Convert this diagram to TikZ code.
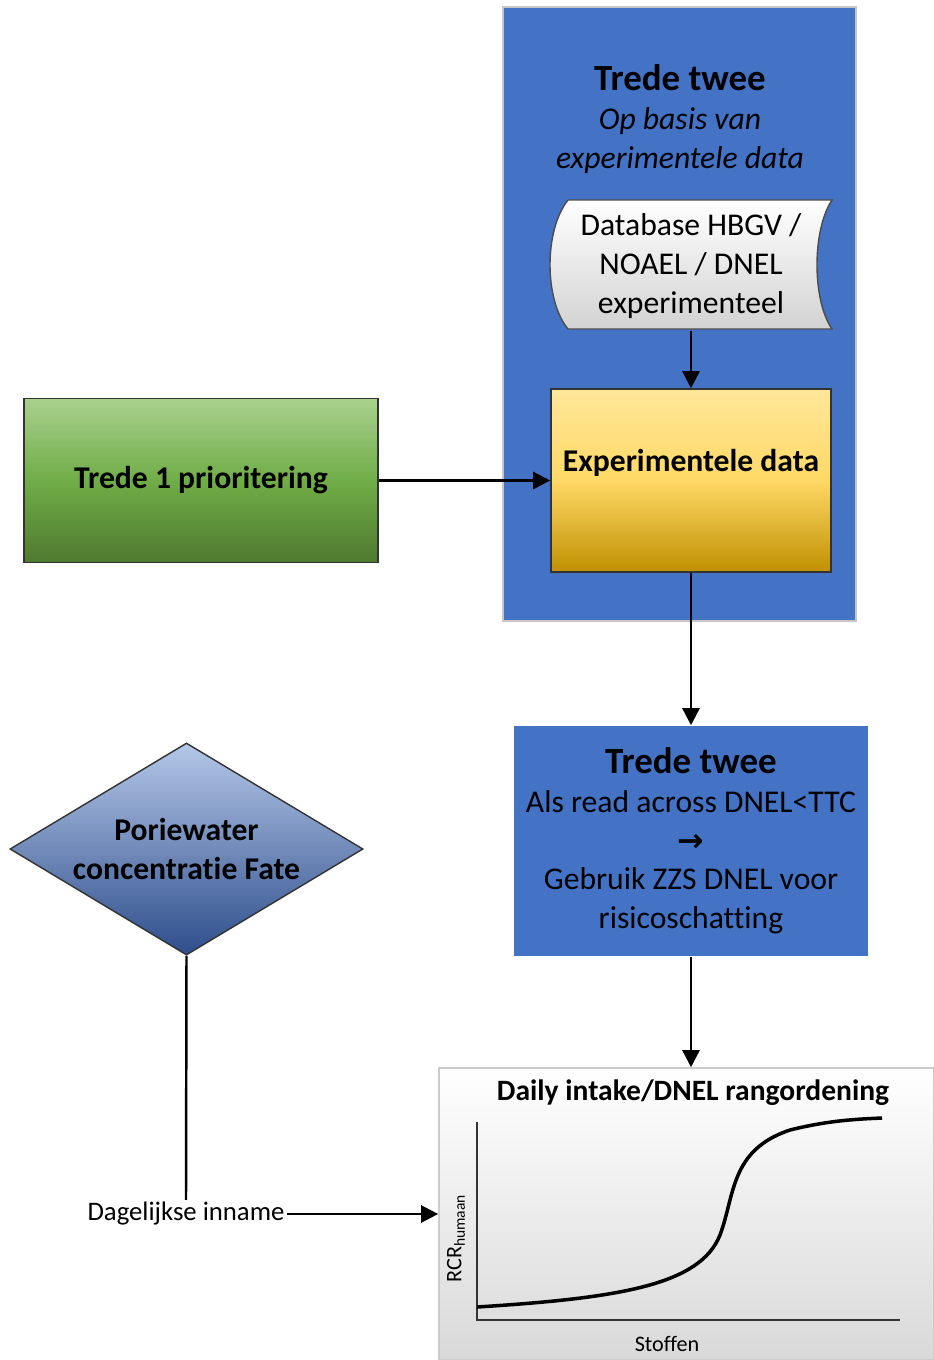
\documentclass[tikz,border=0pt]{standalone}
\usepackage{fontspec}
\setmainfont{Carlito}[Ligatures=NoCommon, RawFeature={-calt;-liga;-clig}]
\newfontfamily\pijlfont{DejaVu Sans}
\usetikzlibrary{arrows.meta,shapes.geometric}

\definecolor{blauw}{HTML}{4472C4}
\definecolor{geeltop}{HTML}{FFE699}
\definecolor{geelmid}{HTML}{FFD966}
\definecolor{geelbot}{HTML}{BF9000}
\definecolor{groentop}{HTML}{A9D18E}
\definecolor{groenmid}{HTML}{70AD47}
\definecolor{groenbot}{HTML}{4F7A2F}
\definecolor{ruittop}{HTML}{B4C7E7}
\definecolor{ruitbot}{HTML}{2E4E8C}

\tikzset{
  pijl/.style={-{Triangle[length=0.17cm,width=0.17cm]}, line width=0.7pt},
  lijn/.style={line width=0.7pt},
  blauwvlak/.style={rectangle, fill=blauw, inner sep=0pt},
  gewoon/.style={font=\fontsize{9}{11}\selectfont, align=center},
  vet/.style={font=\bfseries\fontsize{9}{11}\selectfont, align=center},
}

\begin{document}
\begin{tikzpicture}[x=0.01cm,y=-0.01cm]
\useasboundingbox (0,0) rectangle (934,1360);

% trede twee, experimentele data
\node[blauwvlak, draw=gray!45, minimum width=3.53cm, minimum height=6.14cm] (trede) at (679.5,314) {};
\node[align=center, font=\fontsize{9}{11}\selectfont] (tredetitel) at (680,119)
  {{\bfseries\fontsize{10.5}{12}\selectfont Trede twee}\\ \itshape Op basis van\\ \itshape experimentele data};

\draw[draw=black!70, top color=white, bottom color=gray!35]
  (568,200) -- (832,200) .. controls (812,230) and (812,300) .. (832,329)
  -- (568,329) .. controls (544,300) and (544,230) .. (568,200);
\node[gewoon, minimum width=2.82cm, minimum height=1.29cm, inner sep=0pt] (db) at (691,266)
  {Database HBGV /\\ NOAEL / DNEL\\ experimenteel};

\node[draw=black!80, top color=geeltop, bottom color=geelbot, middle color=geelmid,
  minimum width=2.80cm, minimum height=1.83cm] (exp) at (691,480.5) {};
\node[vet] (exptitel) at (691,463) {Experimentele data};

% trede 1
\node[draw=black!80, top color=groentop, bottom color=groenbot, middle color=groenmid,
  minimum width=3.54cm, minimum height=1.64cm, vet] (prio) at (201,480.5) {Trede 1 prioritering};

% trede twee, read across
\node[blauwvlak, minimum width=3.54cm, minimum height=2.30cm, gewoon] (readacross) at (691,841)
  {{\bfseries\fontsize{10.5}{12}\selectfont Trede twee}\\ Als read across DNEL<TTC\\ {\pijlfont\bfseries →}\\
   Gebruik ZZS DNEL voor\\ risicoschatting};

% poriewater
\node[diamond, draw=black!80, top color=ruittop, bottom color=ruitbot, aspect=1.665,
  minimum width=3.53cm, minimum height=2.12cm, inner sep=0pt, vet] (pori) at (186.5,849)
  {Poriewater\\ concentratie Fate};
\node[font=\fontsize{7.6}{9}\selectfont, inner sep=0.5pt] (inname) at (186,1214) {Dagelijkse inname};

% grafiek
\node[draw=gray!40, top color=white, bottom color=gray!30, minimum width=4.95cm,
  minimum height=2.92cm, inner sep=0pt] (grafiek) at (686.5,1214) {};
\node[font=\bfseries\fontsize{8.4}{10}\selectfont] (grafiektitel) at (693,1093) {Daily intake/DNEL rangordening};
\draw[line width=0.4pt, black!80] (477,1122) -- (477,1320) -- (900,1320);
\draw[line width=1pt] (477,1307) .. controls (620,1298) and (700,1285) .. (720,1235)
  .. controls (735,1195) and (730,1150) .. (790,1130) .. controls (830,1120) and (860,1119) .. (882,1118);
\node[rotate=90, font=\fontsize{6.3}{7}\selectfont] (rcr) at (456,1238) {RCR\textsubscript{humaan}};
\node[font=\fontsize{6.3}{7}\selectfont] (stoffen) at (667,1344) {Stoffen};

% verbindingen
\draw[pijl] (db.south) -- (exp.north);
\draw[pijl] (prio.east) -- (exp.west);
\draw[pijl] (exp.south) -- (readacross.north);
\draw[pijl] (readacross.south) -- (readacross.south |- grafiek.north);
\draw[lijn] (pori.south) -- (inname.north);
\draw[pijl] (inname.east) -- (grafiek.west);
\end{tikzpicture}
\end{document}
